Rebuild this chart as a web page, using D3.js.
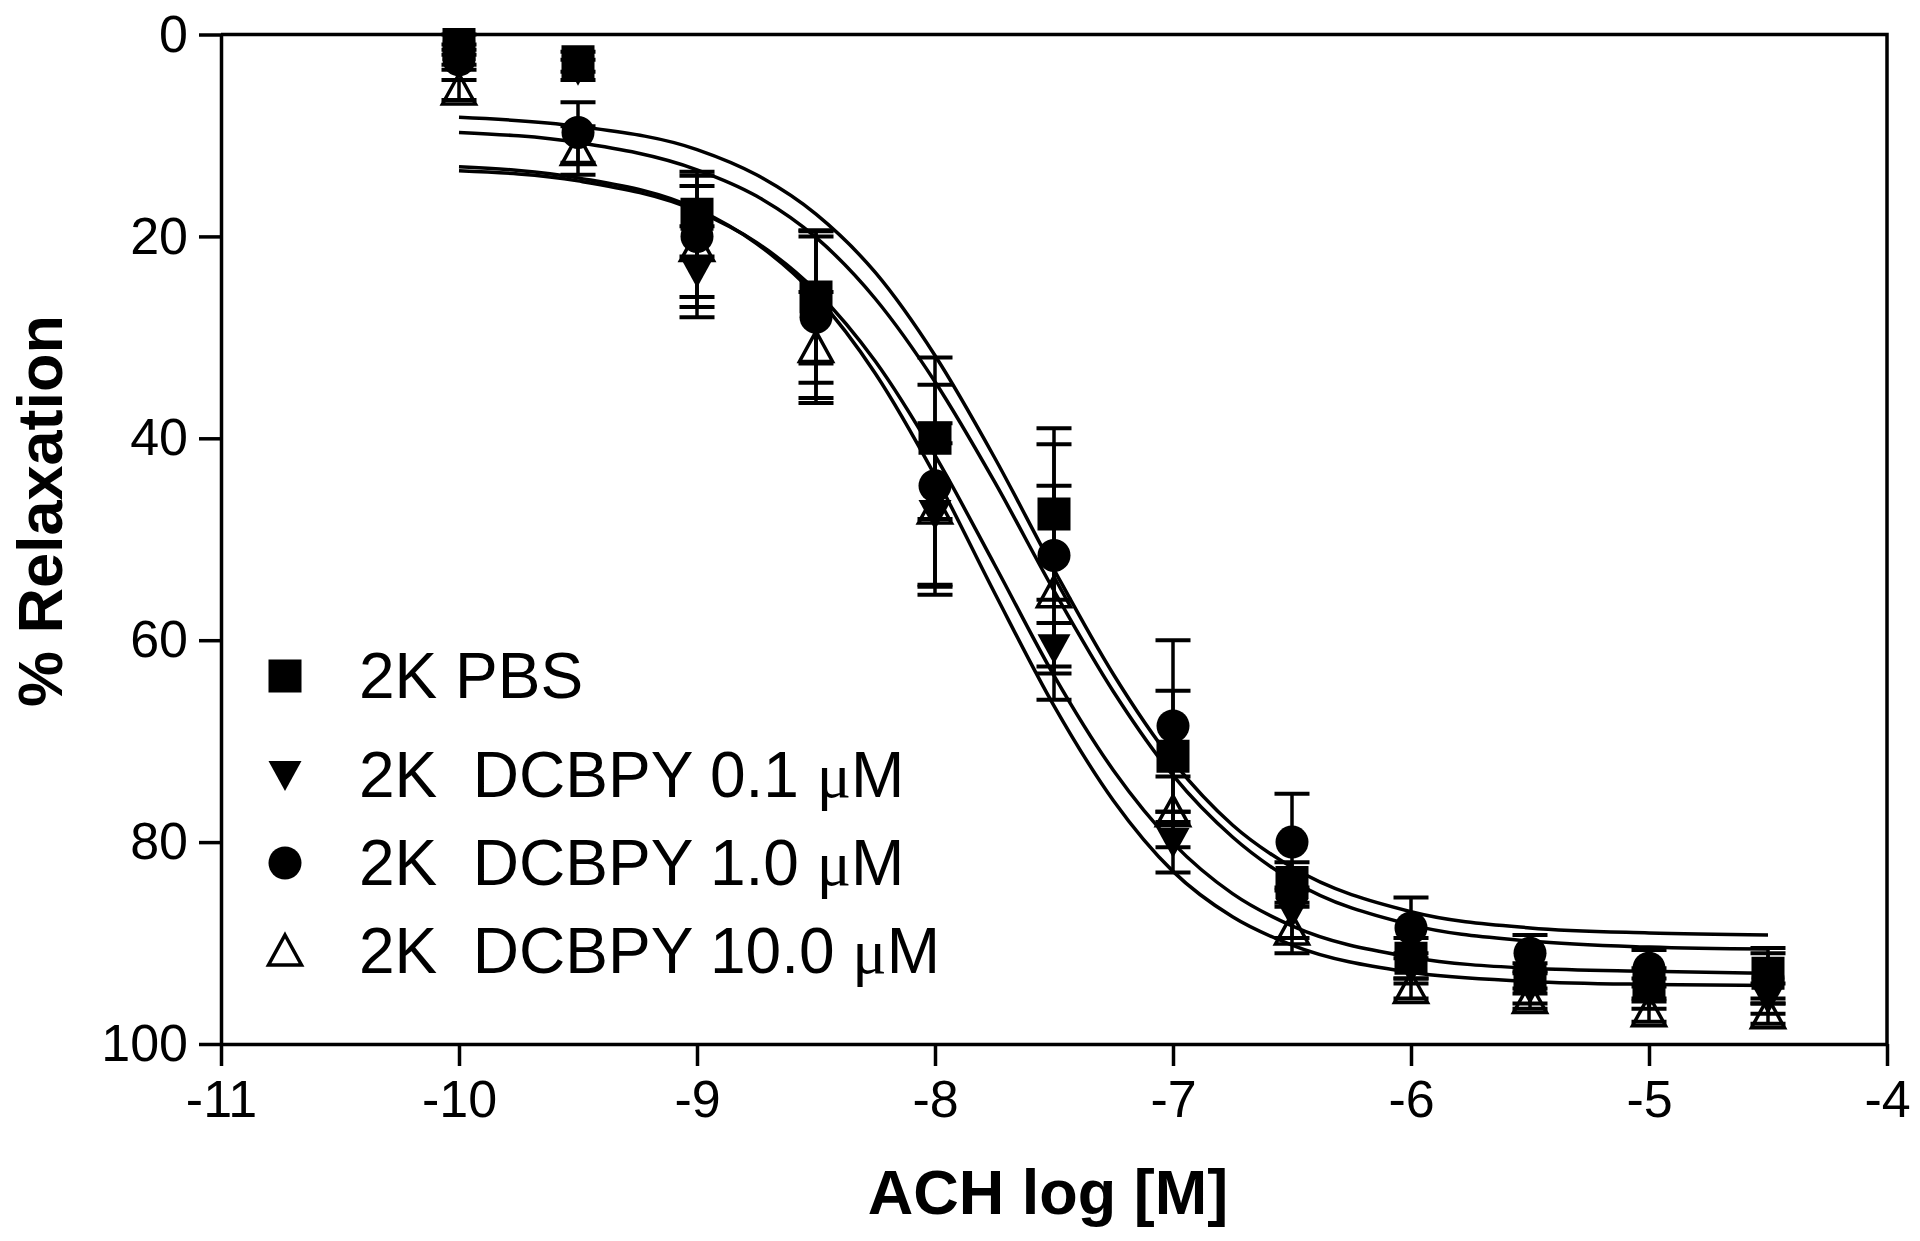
<!DOCTYPE html>
<html>
<head>
<meta charset="utf-8">
<script src="https://cdn.jsdelivr.net/npm/d3@7"></script>
<style>
  html, body { margin: 0; padding: 0; background: #fff; }
  svg { display: block; }
  text { font-family: "Liberation Sans", Arial, sans-serif; fill: #000; }
</style>
</head>
<body>
<div id="chart"></div>
<script>
// Concentrations (log M) where responses were measured
const doses = [-10, -9.5, -9, -8.5, -8, -7.5, -7, -6.5, -6, -5.5, -5, -4.5];

// Mean % relaxation per group
const pbsMean     = [1.0, 2.7, 17.8, 26.0, 40.0, 47.5, 71.5, 84.0, 91.5, 93.5, 94.0, 93.0];
const dcbpy01Mean = [2.0, 3.5, 23.5, 27.0, 47.5, 60.8, 80.0, 87.0, 92.5, 94.5, 95.0, 95.5];
const dcbpy1Mean  = [2.5, 9.7, 20.0, 28.0, 44.7, 51.6, 68.5, 80.0, 88.5, 91.0, 92.5, 93.5];
const dcbpy10Mean = [5.5, 11.5, 21.0, 31.0, 47.0, 55.3, 77.0, 88.7, 94.5, 95.5, 96.8, 97.0];

// SEM per group
const pbsErr     = [1.0, 1.0, 4.2, 6.6, 8.0, 8.5, 6.5, 2.0, 2.0, 1.5, 1.5, 2.5];
const dcbpy01Err = [1.0, 1.0, 4.5, 7.5, 7.0, 2.5, 3.0, 2.5, 1.5, 1.5, 1.5, 1.5];
const dcbpy1Err  = [1.0, 3.0, 6.0, 8.0, 10.0, 11.0, 8.5, 4.8, 3.0, 1.8, 1.8, 2.5];
const dcbpy10Err = [1.0, 2.4, 6.0, 5.5, 8.5, 10.6, 3.5, 2.3, 1.0, 1.0, 1.0, 1.0];

// Fitted curves
const curveX = [-10, -9.5, -9, -8.75, -8.5, -8.25, -8, -7.75, -7.5, -7.25, -7, -6.75, -6.5, -6, -5.5, -5, -4.5];
const pbsFit     = [9.7, 10.7, 13.4, 16.0, 20.1, 26.2, 34.4, 44.3, 55.1, 65.1, 73.4, 79.5, 83.8, 88.2, 89.8, 90.4, 90.6];
const dcbpy01Fit = [13.1, 14.2, 17.3, 20.7, 25.9, 33.6, 43.7, 55.3, 66.5, 75.9, 82.9, 87.4, 90.2, 92.9, 93.8, 94.1, 94.2];
const dcbpy1Fit  = [8.2, 9.1, 11.4, 13.9, 17.8, 23.6, 31.8, 41.9, 53.0, 63.4, 72.0, 78.3, 82.5, 86.9, 88.5, 89.0, 89.2];
const dcbpy10Fit = [13.5, 14.5, 17.5, 20.6, 25.4, 32.4, 41.7, 52.5, 63.5, 72.9, 80.1, 85.1, 88.3, 91.4, 92.5, 92.8, 93.0];

const xTicks = [-11, -10, -9, -8, -7, -6, -5, -4];
const yTicks = [0, 20, 40, 60, 80, 100];

const groups = [
    { label: "2K PBS", conc: null, shape: "square", mean: pbsMean, err: pbsErr, fit: pbsFit },
    { label: "2K  DCBPY ", conc: "0.1", shape: "down", mean: dcbpy01Mean, err: dcbpy01Err, fit: dcbpy01Fit },
    { label: "2K  DCBPY ", conc: "1.0", shape: "circle", mean: dcbpy1Mean, err: dcbpy1Err, fit: dcbpy1Fit },
    { label: "2K  DCBPY ", conc: "10.0", shape: "up", mean: dcbpy10Mean, err: dcbpy10Err, fit: dcbpy10Fit }
];

const width = 1920, height = 1241;
const margin = { left: 221, right: 33, top: 34.5, bottom: 197 };

const svg = d3.select("#chart").append("svg")
    .attr("width", width)
    .attr("height", height);

const x = d3.scaleLinear().domain([-11, -4]).range([margin.left, width - margin.right]);
const y = d3.scaleLinear().domain([0, 100]).range([margin.top, height - margin.bottom]);

// marker path centred at 0,0
function markerPath(shape) {
    const h = 16.5;
    if (shape === "square") return `M${-h},${-h}H${h}V${h}H${-h}Z`;
    if (shape === "circle") return d3.arc()({ innerRadius: 0, outerRadius: 16.5, startAngle: 0, endAngle: 2 * Math.PI });
    if (shape === "down") return `M${-h},${-14}L${h},${-14}L0,${16}Z`;
    return `M0,${-16}L${h},${14}L${-h},${14}Z`;
}

// Frame: top and right border
svg.append("path")
    .attr("d", `M${x(-11)},${y(0)}H${x(-4)}V${y(100)}`)
    .attr("fill", "none")
    .attr("stroke", "#000")
    .attr("stroke-width", 3.5);

// Axes (plain hyphen minus, no decimals)
const fmt = d => String(d);

const xAxis = svg.append("g")
    .attr("transform", `translate(0,${y(100)})`)
    .call(d3.axisBottom(x).tickValues(xTicks).tickFormat(fmt).tickSize(22).tickSizeOuter(0).tickPadding(14));

const yAxis = svg.append("g")
    .attr("transform", `translate(${x(-11)},0)`)
    .call(d3.axisLeft(y).tickValues(yTicks).tickFormat(fmt).tickSize(22).tickSizeOuter(0).tickPadding(11));

[xAxis, yAxis].forEach(ax => {
    ax.select(".domain").attr("stroke", "#000").attr("stroke-width", 3.5);
    ax.selectAll(".tick line").attr("stroke", "#000").attr("stroke-width", 3.5);
    ax.selectAll(".tick text")
        .attr("font-size", 52)
        .attr("font-family", "Liberation Sans, Arial, sans-serif")
        .attr("fill", "#000");
});

// Fitted curves
const line = d3.line()
    .x((d, i) => x(curveX[i]))
    .y(d => y(d))
    .curve(d3.curveMonotoneX);

const plot = svg.append("g");

groups.forEach(g => {
    plot.append("path")
        .attr("d", line(g.fit))
        .attr("fill", "none")
        .attr("stroke", "#000")
        .attr("stroke-width", 3.5);
});

// Draw groups: open triangles first, squares on top
const drawOrder = [3, 2, 1, 0];
drawOrder.forEach(k => {
    const g = groups[k];
    const grp = plot.append("g");
    doses.forEach((dose, i) => {
        const cx = x(dose);
        const lo = y(g.mean[i] - g.err[i]);
        const hi = y(g.mean[i] + g.err[i]);
        grp.append("line")
            .attr("x1", cx).attr("x2", cx)
            .attr("y1", lo).attr("y2", hi)
            .attr("stroke", "#000").attr("stroke-width", 3.5);
        [lo, hi].forEach(yy => {
            grp.append("line")
                .attr("x1", cx - 17.5).attr("x2", cx + 17.5)
                .attr("y1", yy).attr("y2", yy)
                .attr("stroke", "#000").attr("stroke-width", 4);
        });
    });
    grp.selectAll("path.marker")
        .data(g.mean)
        .enter()
        .append("path")
        .attr("class", "marker")
        .attr("d", markerPath(g.shape))
        .attr("transform", (d, i) => `translate(${x(doses[i])},${y(d)})`)
        .attr("fill", g.shape === "up" ? "none" : "#000")
        .attr("stroke", "#000")
        .attr("stroke-width", g.shape === "up" ? 3.5 : 0);
});

// Legend
const legendY = [676, 775, 863, 951];
const legend = svg.append("g");
groups.forEach((g, i) => {
    legend.append("path")
        .attr("d", markerPath(g.shape))
        .attr("transform", `translate(285,${legendY[i]})`)
        .attr("fill", g.shape === "up" ? "#fff" : "#000")
        .attr("stroke", "#000")
        .attr("stroke-width", g.shape === "up" ? 3.5 : 0);

    const t = legend.append("text")
        .attr("x", 359)
        .attr("y", legendY[i] + 22)
        .attr("font-size", 64)
        .style("white-space", "pre")
        .text(g.label);
    if (g.conc) {
        t.append("tspan").text(g.conc + " ");
        t.append("tspan").attr("font-family", "Liberation Serif, Times New Roman, serif").text("\u03bc");
        t.append("tspan").text("M");
    }
});

// Axis titles
svg.append("text")
    .attr("transform", `translate(62,511) rotate(-90)`)
    .attr("text-anchor", "middle")
    .attr("font-size", 63)
    .attr("font-weight", "bold")
    .text("% Relaxation");

svg.append("text")
    .attr("x", 1048)
    .attr("y", 1214)
    .attr("text-anchor", "middle")
    .attr("font-size", 63)
    .attr("font-weight", "bold")
    .text("ACH log [M]");
</script>
</body>
</html>
